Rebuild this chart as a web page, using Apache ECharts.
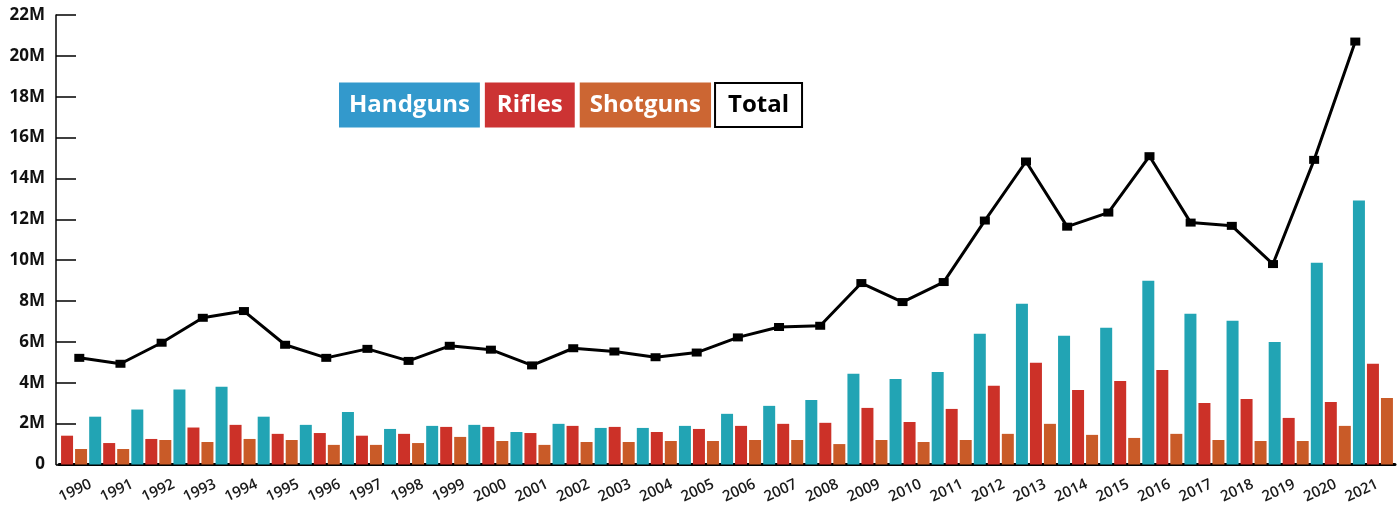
<!DOCTYPE html>
<html lang="en">
<head>
<meta charset="UTF-8" />
<title>Firearms by type, 1990-2021</title>
<script src="https://cdn.jsdelivr.net/npm/echarts@6/dist/echarts.min.js"></script>
<style>html, body { margin: 0; background: #fff; }</style>
</head>
<body>
<div id="main" style="width: 1398px; height: 506px"></div>
<script>
// values in millions
const years = ["1990","1991","1992","1993","1994","1995","1996","1997","1998","1999",
  "2000","2001","2002","2003","2004","2005","2006","2007","2008","2009",
  "2010","2011","2012","2013","2014","2015","2016","2017","2018","2019","2020","2021"];
const handguns = [null, 2.34, 2.69, 3.67, 3.81, 2.34, 1.94, 2.57, 1.74, 1.89,
  1.94, 1.59, 1.99, 1.79, 1.79, 1.89, 2.48, 2.87, 3.16, 4.44,
  4.19, 4.53, 6.40, 7.87, 6.30, 6.69, 8.99, 7.38, 7.03, 6.00, 9.88, 12.92];
const rifles = [1.41, 1.05, 1.25, 1.81, 1.94, 1.50, 1.54, 1.41, 1.50, 1.84,
  1.84, 1.54, 1.89, 1.84, 1.59, 1.74, 1.89, 1.99, 2.04, 2.77,
  2.08, 2.72, 3.85, 4.98, 3.65, 4.09, 4.63, 3.01, 3.21, 2.28, 3.06, 4.93];
const shotguns = [0.76, 0.76, 1.20, 1.10, 1.25, 1.20, 0.96, 0.96, 1.05, 1.35,
  1.15, 0.96, 1.10, 1.10, 1.15, 1.15, 1.20, 1.20, 1.00, 1.20,
  1.10, 1.20, 1.50, 1.99, 1.45, 1.30, 1.50, 1.20, 1.15, 1.15, 1.89, 3.26];
const total = [5.22, 4.93, 5.96, 7.18, 7.51, 5.86, 5.22, 5.66, 5.07, 5.81,
  5.62, 4.85, 5.69, 5.53, 5.25, 5.48, 6.22, 6.73, 6.79, 8.88,
  7.95, 8.93, 11.94, 14.83, 11.64, 12.33, 15.09, 11.84, 11.68, 9.81, 14.91, 20.70];
const yTicks = { min: 0, max: 22, interval: 2 };

const chart = echarts.init(document.getElementById("main"));

const FONT = "Open Sans";
const vert = { top: 15, bottom: 41.5 };

// hidden value axis on the same scale
const hiddenY = (g) => ({ gridIndex: g, type: "value", min: yTicks.min, max: yTicks.max, show: false });

const legendItem = (name, bg, fg, hpad, border) => ({
  name: name,
  icon: "none",
  textStyle: {
    color: fg,
    backgroundColor: bg,
    borderColor: border || bg,
    borderWidth: border ? 2 : 0,
    padding: border ? [9, hpad, 9, hpad] : [10, hpad, 11, hpad],
    fontFamily: FONT,
    fontSize: 24,
    fontWeight: "bold",
    lineHeight: 24
  }
});

const option = {
  animation: false,
  legend: {
    left: 334,
    top: 82,
    padding: 0,
    itemGap: 0,
    itemWidth: 0,
    itemHeight: 0,
    selectedMode: false,
    data: [
      legendItem("Handguns", "#3399cc", "#fff", 10),
      legendItem("Rifles", "#cc3333", "#fff", 12),
      legendItem("Shotguns", "#cc6633", "#fff", 10),
      legendItem("Total", "#fff", "#000", 12, "#000")
    ]
  },
  grid: [
    Object.assign({ left: 59, right: 3 }, vert),      // frame: baseline, y axis
    Object.assign({ left: 46, right: 4 }, vert),      // bars
    Object.assign({ left: 79.3, right: 42.7 }, vert), // total line
    Object.assign({ left: 52, right: 10 }, vert),     // black base blocks
    Object.assign({ left: 70, right: -8 }, vert)      // year labels
  ],
  xAxis: [
    {
      gridIndex: 0, type: "category", data: years, boundaryGap: true,
      axisLine: { lineStyle: { color: "#000", width: 3 } },
      axisTick: { show: false },
      axisLabel: { show: false }
    },
    { gridIndex: 1, type: "category", data: years, show: false },
    { gridIndex: 2, type: "category", data: years, boundaryGap: false, show: false },
    {
      gridIndex: 3, type: "category", data: years, boundaryGap: true,
      axisLine: { show: false },
      axisLabel: { show: false },
      axisTick: { inside: true, length: 10, interval: (i) => i > 0, lineStyle: { color: "#000", width: 14 } }
    },
    {
      gridIndex: 4, type: "category", data: years, boundaryGap: true,
      axisLine: { show: false },
      axisTick: { show: false },
      axisLabel: { rotate: 25, margin: 23, fontFamily: FONT, fontSize: 15, fontWeight: 600, color: "#1a1a1a", interval: 0 }
    }
  ],
  yAxis: [
    {
      gridIndex: 0, type: "value", min: yTicks.min, max: yTicks.max, interval: yTicks.interval, offset: 3,
      axisLine: { show: true, lineStyle: { color: "#000", width: 1.5 } },
      axisTick: { show: true, inside: true, length: 20, lineStyle: { color: "#000", width: 1.5 } },
      splitLine: { show: false },
      axisLabel: {
        margin: 11, fontFamily: FONT, fontSize: 17, fontWeight: "bold", color: "#111",
        formatter: (v) => (v === 0 ? "0" : v + "M")
      }
    },
    hiddenY(1), hiddenY(2), hiddenY(3), hiddenY(4)
  ],
  series: [
    { name: "Handguns", type: "bar", xAxisIndex: 1, yAxisIndex: 1, data: handguns,
      barWidth: 12, barGap: "16.7%", itemStyle: { color: "#22a4b4" } },
    { name: "Rifles", type: "bar", xAxisIndex: 1, yAxisIndex: 1, data: rifles,
      barWidth: 12, barGap: "16.7%", itemStyle: { color: "#cc3128" } },
    { name: "Shotguns", type: "bar", xAxisIndex: 1, yAxisIndex: 1, data: shotguns,
      barWidth: 12, barGap: "16.7%", itemStyle: { color: "#c95b28" } },
    { name: "Total", type: "line", xAxisIndex: 2, yAxisIndex: 2, data: total,
      symbol: "rect", symbolSize: [10, 8], z: 5,
      lineStyle: { color: "#000", width: 3 }, itemStyle: { color: "#000" } }
  ]
};

chart.setOption(option);
</script>
</body>
</html>
